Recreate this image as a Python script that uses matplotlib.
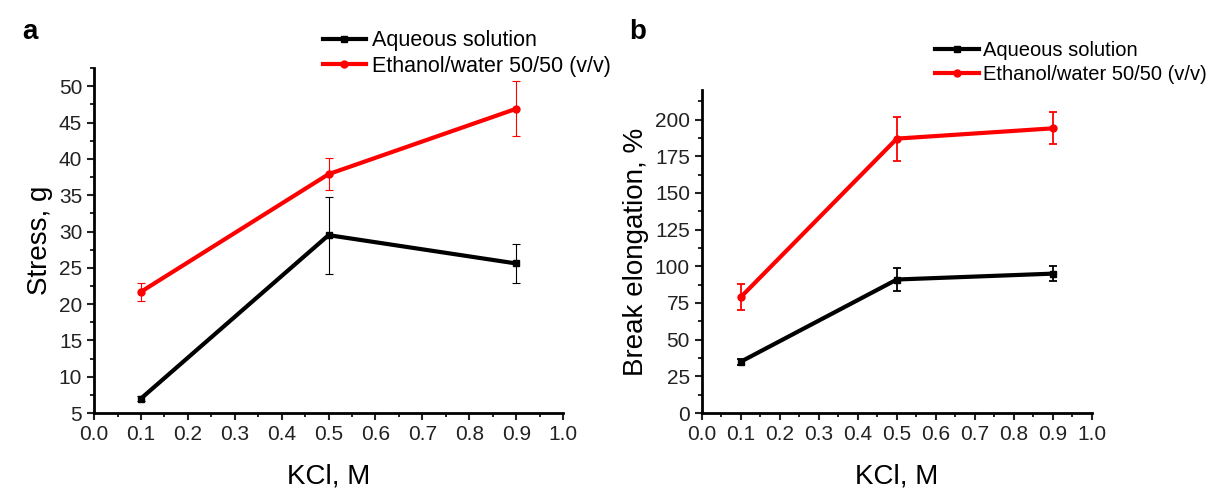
import matplotlib
matplotlib.use("Agg")
import matplotlib.pyplot as plt
from matplotlib.ticker import MultipleLocator

plt.rcParams['font.family'] = ['Liberation Sans', 'DejaVu Sans']

kcl = [0.1, 0.5, 0.9]

# panel a - stress, g
stress_aq = [7.0, 29.5, 25.6]
stress_aq_err = [0.3, 5.3, 2.7]
stress_eth = [21.7, 37.9, 46.9]
stress_eth_err = [1.2, 2.2, 3.8]

# panel b - break elongation, %
elong_aq = [35, 91, 95]
elong_aq_err = [2, 8, 5]
elong_eth = [79, 187, 194]
elong_eth_err = [9, 15, 11]

labels = ["Aqueous solution", "Ethanol/water 50/50 (v/v)"]

fig = plt.figure(figsize=(12.12, 4.9), dpi=100)
ax1 = fig.add_axes([0.0776, 0.157, 0.387, 0.704])
ax2 = fig.add_axes([0.579, 0.157, 0.322, 0.659])


def draw(ax, aq, aq_err, eth, eth_err, ylim, major, minor, ylabel, ebw):
    h = []
    for y, e, c, m, lab in [(aq, aq_err, 'black', 's', labels[0]),
                            (eth, eth_err, '#ff0000', 'o', labels[1])]:
        ax.errorbar(kcl, y, yerr=e, color=c, fmt='none', elinewidth=ebw,
                    capsize=3, capthick=ebw)
        line, = ax.plot(kcl, y, color=c, marker=m, ms=5, lw=3, label=lab)
        h.append(line)
    ax.set_xlim(0, 1.0)
    ax.set_ylim(*ylim)
    ax.xaxis.set_major_locator(MultipleLocator(0.1))
    ax.xaxis.set_minor_locator(MultipleLocator(0.05))
    ax.yaxis.set_major_locator(MultipleLocator(major))
    ax.yaxis.set_minor_locator(MultipleLocator(minor))
    ax.set_xticklabels([f"{v:.1f}" for v in ax.get_xticks()])
    for s in ['top', 'right']:
        ax.spines[s].set_visible(False)
    for s in ['left', 'bottom']:
        ax.spines[s].set_linewidth(2)
    ax.tick_params(which='major', direction='out', length=5, width=1.5, labelsize=15, colors='#222222')
    ax.tick_params(which='minor', direction='out', length=3, width=1.2)
    ax.set_xlabel("KCl, M", fontsize=20, labelpad=14)
    ax.set_ylabel(ylabel, fontsize=20)
    return h


h1 = draw(ax1, stress_aq, stress_aq_err, stress_eth, stress_eth_err,
          (5, 52.5), 5, 2.5, "Stress, g", 0.8)
h2 = draw(ax2, elong_aq, elong_aq_err, elong_eth, elong_eth_err,
          (0, 220), 25, 12.5, "Break elongation, %", 1.3)
ax2.set_yticks([0, 25, 50, 75, 100, 125, 150, 175, 200])

ax1.legend(handles=h1, loc='lower left', bbox_to_anchor=(0.488, 0.975), frameon=False, fontsize=15.5,
           handlelength=2.0, handletextpad=0.3, labelspacing=0.2, borderaxespad=0, borderpad=0)
ax2.legend(handles=h2, loc='lower left', bbox_to_anchor=(0.597, 1.02), frameon=False, fontsize=14.5,
           handlelength=2.2, handletextpad=0.2, labelspacing=0.25, borderaxespad=0, borderpad=0)

fig.text(0.018, 0.92, "a", fontsize=20, fontweight='bold')
fig.text(0.519, 0.92, "b", fontsize=20, fontweight='bold')

fig.savefig("out.png", dpi=100)
